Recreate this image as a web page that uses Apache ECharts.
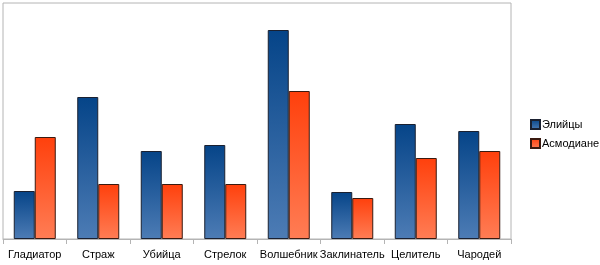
<!DOCTYPE html>
<html><head><meta charset="utf-8">
<script src="https://cdn.jsdelivr.net/npm/echarts@6/dist/echarts.min.js"></script>
<style>html,body{margin:0;padding:0;background:#fff}#c{width:600px;height:265px}</style>
</head><body><div id="c"></div>
<script>
var categories = ['Гладиатор','Страж','Убийца','Стрелок','Волшебник','Заклинатель','Целитель','Чародей'];
var elyos = [48, 142, 88, 94, 209, 47, 115, 108];
var asmo = [102, 55, 55, 55, 148, 41, 81, 88];
var seriesNames = ['Элийцы','Асмодиане'];

function grad(top, bottom){
  return new echarts.graphic.LinearGradient(0,0,0,1,[{offset:0,color:top},{offset:1,color:bottom}]);
}
var chart = echarts.init(document.getElementById('c'));
chart.setOption({
  animation:false,
  textStyle:{fontFamily:'Liberation Sans, Arial, sans-serif'},
  grid:{left:3,right:89,top:3,bottom:26,show:true,borderColor:'#b4b4b4',borderWidth:1,containLabel:false},
  legend:{orient:'vertical',left:530,top:119,padding:0,itemWidth:9,itemHeight:9,itemGap:8,icon:'rect',
    textStyle:{fontSize:11,color:'#000',padding:[0,0,0,-3]},data:seriesNames},
  xAxis:{type:'category',data:categories,
    axisLine:{lineStyle:{color:'#b4b4b4'}},
    axisTick:{show:true,length:5,lineStyle:{color:'#b4b4b4'}},
    axisLabel:{color:'#000',fontSize:11,margin:10,interval:0}},
  yAxis:{type:'value',min:0,max:236,show:false,splitLine:{show:false}},
  series:[
    {name:seriesNames[0],type:'bar',data:elyos,barWidth:21,barGap:'0%',
     itemStyle:{color:grad('#054488','#4d7cb5'),borderColor:'#1a2030',borderWidth:1}},
    {name:seriesNames[1],type:'bar',data:asmo,barWidth:21,barGap:'0%',
     itemStyle:{color:grad('#ff400c','#ff7d55'),borderColor:'#3a1a10',borderWidth:1}}
  ]
});
</script></body></html>
